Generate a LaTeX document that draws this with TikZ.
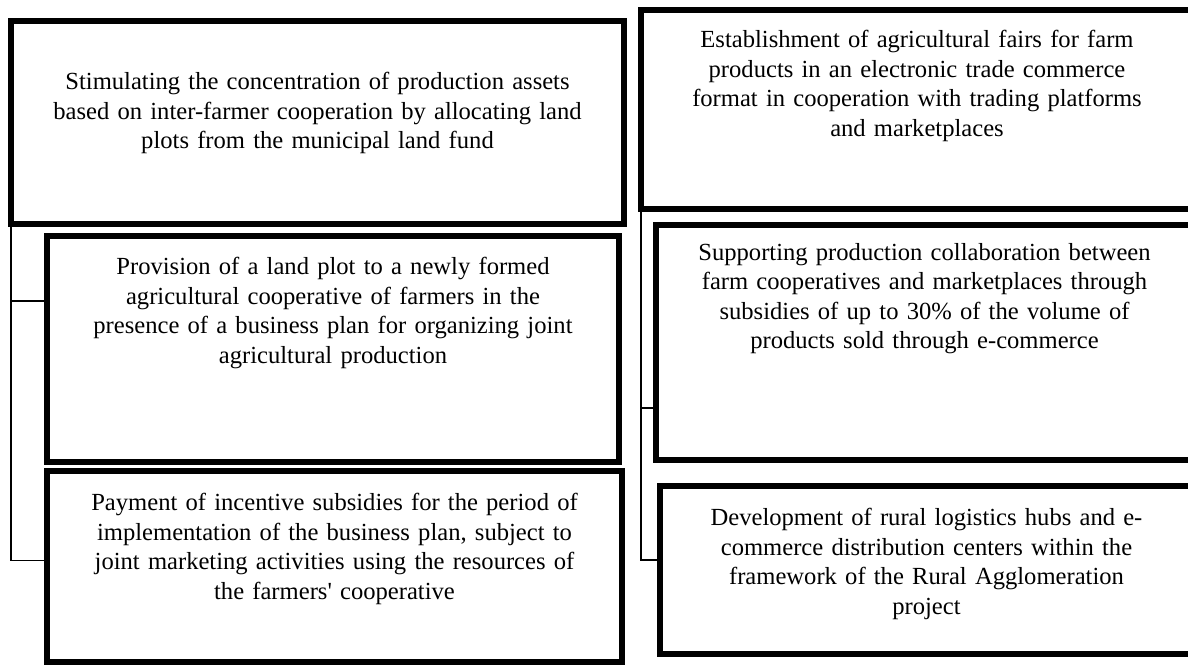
\documentclass[tikz,border=0pt]{standalone}
\usepackage{fontspec}
\setmainfont{Liberation Serif}[Ligatures=TeXOff]
\usetikzlibrary{positioning}

\begin{document}
\begin{tikzpicture}[x=0.5pt, y=-0.5pt,
		panel/.style={draw, line width=3pt, inner sep=0pt, outer sep=0pt, anchor=north west},
		paneltext/.style={align=center, text width=285pt, inner sep=0pt, anchor=north, font=\fontsize{12.3}{14.75}\selectfont},
		link/.style={line width=0.7pt}]
			\useasboundingbox (0,0) rectangle (1188,666);
			\clip (0,0) rectangle (1188,666);

			\begin{scope}
				\node[panel, minimum width=306.5pt, minimum height=101.5pt] (stim) at (11,21) {};
				\node[paneltext, below=25.5pt of stim.north] (stim text) {Stimulating the concentration of production assets\\based on inter-farmer cooperation by allocating land\\plots from the municipal land fund};

				\node[panel, minimum width=286pt, minimum height=113pt] (plot) at (47,236) {};
				\node[paneltext, below=10.5pt of plot.north] (plot text) {Provision of a land plot to a newly formed\\agricultural cooperative of farmers in the\\presence of a business plan for organizing joint\\agricultural production};

				\node[panel, minimum width=287.5pt, minimum height=95.5pt] (pay) at (47,471) {};
				\node[paneltext, below=11pt of pay.north] (pay text) {Payment of incentive subsidies for the period of\\implementation of the business plan, subject to\\joint marketing activities using the resources of\\the farmers' cooperative};

				\draw[link] (stim.south west) |- ([yshift=-32.5pt]plot.north west);
				\draw[link] (stim.south west) |- ([yshift=3pt]pay.west);
			\end{scope}

			\begin{scope}
				\node[panel, minimum width=276pt, minimum height=99.5pt] (fair) at (641,10) {};
				\node[paneltext, below=10pt of fair.north] (fair text) {Establishment of agricultural fairs for farm\\products in an electronic trade commerce\\format in cooperation with trading platforms\\and marketplaces};

				\node[panel, minimum width=268.5pt, minimum height=117.5pt] (collab) at (656,225) {};
				\node[paneltext, below=9pt of collab.north] (collab text) {Supporting production collaboration between\\farm cooperatives and marketplaces through\\subsidies of up to 30\% of the volume of\\products sold through e-commerce};

				\node[panel, minimum width=266.5pt, minimum height=84pt] (hub) at (660,486) {};
				\node[paneltext, below=11pt of hub.north] (hub text) {Development of rural logistics hubs and e-\\commerce distribution centers within the\\framework of the Rural Agglomeration\\project};

				\draw[link] (fair.south west) |- ([yshift=26pt]collab.south west);
				\draw[link] (fair.south west) |- ([yshift=5pt]hub.west);
			\end{scope}
		\end{tikzpicture}
\end{document}
